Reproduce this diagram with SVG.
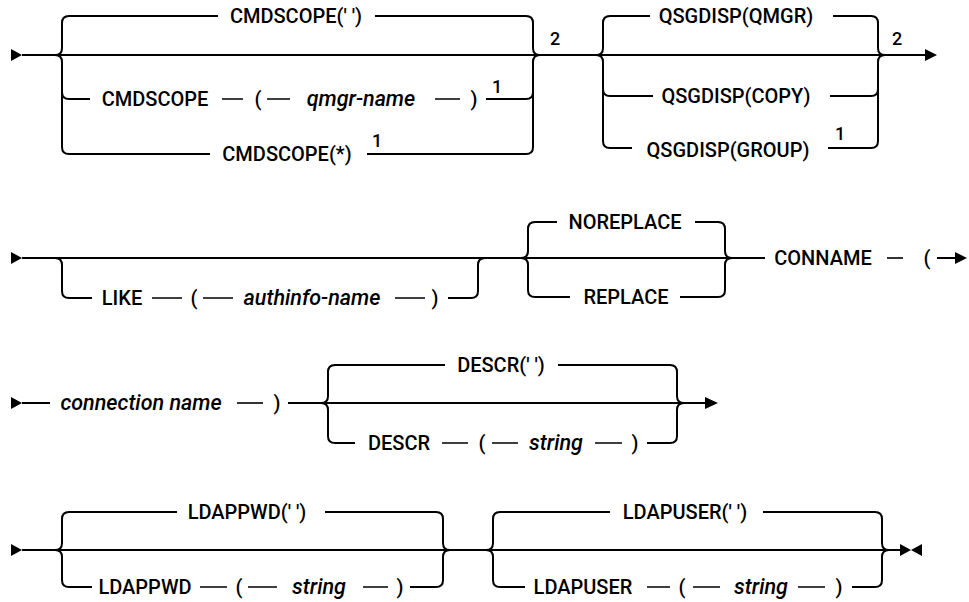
<svg xmlns="http://www.w3.org/2000/svg" width="969" height="602" viewBox="0 0 969 602">
<style>
.t{font-family:Roboto,"Liberation Sans",sans-serif;font-size:20px;font-weight:500;fill:#000;text-anchor:middle}
.i{font-style:italic;font-size:21.5px}
.n{font-size:18px}
.l{fill:none;stroke:#000;stroke-width:2}
.d{fill:none;stroke:#000;stroke-width:1.6}
.a{fill:#000}
</style>
<rect width="969" height="602" fill="#fff"/>
<g id="connectors">
<path class="a" d="M11,49 L22,55 L11,61 Z"/>
<path class="l" d="M22,55 H925"/>
<path class="l" d="M55,55 Q62,55 62,48 V23 Q62,16 69,16 H218"/>
<path class="l" d="M55,55 Q62,55 62,62 V147 Q62,154 69,154 H210"/>
<path class="l" d="M62,92 Q62,99 69,99 H90"/>
<path class="l" d="M375,16 H526 Q533,16 533,23 V48 Q533,55 540,55"/>
<path class="l" d="M367,154 H526 Q533,154 533,147 V62 Q533,55 540,55"/>
<path class="l" d="M486,99 H526 Q533,99 533,92"/>
<path class="d" d="M222,99 H243 M267,99 H290 M435,99 H460"/>
<path class="l" d="M596,55 Q603,55 603,48 V23 Q603,16 610,16 H650"/>
<path class="l" d="M596,55 Q603,55 603,62 V141 Q603,148 610,148 H632"/>
<path class="l" d="M603,89 Q603,96 610,96 H653"/>
<path class="l" d="M833,16 H871 Q878,16 878,23 V48 Q878,55 885,55"/>
<path class="l" d="M830,96 H871 Q878,96 878,89"/>
<path class="l" d="M828,148 H871 Q878,148 878,141 V62 Q878,55 885,55"/>
<path class="a" d="M925,49 L937,55 L925,61 Z"/>
<path class="a" d="M11,252 L22,258 L11,264 Z"/>
<path class="l" d="M22,258 H765"/>
<path class="l" d="M55,258 Q62,258 62,265 V291 Q62,298 69,298 H92"/>
<path class="l" d="M448,298 H471 Q478,298 478,291 V265 Q478,258 485,258"/>
<path class="d" d="M152,298 H182 M203,298 H233 M395,298 H425"/>
<path class="l" d="M521,258 Q528,258 528,251 V229 Q528,222 535,222 H557"/>
<path class="l" d="M521,258 Q528,258 528,265 V290 Q528,297 535,297 H570"/>
<path class="l" d="M695,222 H718 Q725,222 725,229 V251 Q725,258 732,258"/>
<path class="l" d="M680,297 H718 Q725,297 725,290 V265 Q725,258 732,258"/>
<path class="d" d="M887,258 H903"/>
<path class="l" d="M937,258 H955"/>
<path class="a" d="M955,252 L967,258 L955,264 Z"/>
<path class="a" d="M11,397 L22,403 L11,409 Z"/>
<path class="l" d="M22,403 H50"/>
<path class="d" d="M237,403 H263"/>
<path class="l" d="M288,403 H705"/>
<path class="l" d="M321,403 Q328,403 328,396 V372 Q328,365 335,365 H445"/>
<path class="l" d="M321,403 Q328,403 328,410 V436 Q328,443 335,443 H355"/>
<path class="l" d="M558,365 H670 Q677,365 677,372 V396 Q677,403 684,403"/>
<path class="l" d="M647,443 H670 Q677,443 677,436 V410 Q677,403 684,403"/>
<path class="d" d="M442,443 H468 M492,443 H518 M595,443 H622"/>
<path class="a" d="M705,397 L718,403 L705,409 Z"/>
<path class="a" d="M11,544 L22,550 L11,556 Z"/>
<path class="l" d="M22,550 H900"/>
<path class="l" d="M55,550 Q62,550 62,543 V519 Q62,512 69,512 H177"/>
<path class="l" d="M55,550 Q62,550 62,557 V580 Q62,587 69,587 H92"/>
<path class="l" d="M325,512 H436 Q443,512 443,519 V543 Q443,550 450,550"/>
<path class="l" d="M410,587 H436 Q443,587 443,580 V557 Q443,550 450,550"/>
<path class="d" d="M200,587 H227 M248,587 H277 M363,587 H388"/>
<path class="l" d="M486,550 Q493,550 493,543 V519 Q493,512 500,512 H610"/>
<path class="l" d="M486,550 Q493,550 493,557 V580 Q493,587 500,587 H525"/>
<path class="l" d="M763,512 H875 Q882,512 882,519 V543 Q882,550 889,550"/>
<path class="l" d="M852,587 H875 Q882,587 882,580 V557 Q882,550 889,550"/>
<path class="d" d="M647,587 H670 M693,587 H720 M798,587 H825"/>
<path class="a" d="M900,544 L911,550 L900,556 Z M922,544 L911,550 L922,556 Z"/>
</g>
<g id="cmdscope-blank"><text class="t" x="296" y="23">CMDSCOPE(' ')</text></g>
<g id="cmdscope-qmgr">
<text class="t" x="155" y="106">CMDSCOPE</text>
<text class="t" x="258" y="106">(</text>
<text class="t i" x="361" y="106">qmgr-name</text>
<text class="t" x="474" y="106">)</text>
<text class="t n" x="497" y="93">1</text>
</g>
<g id="cmdscope-star">
<text class="t" x="287" y="161">CMDSCOPE(*)</text>
<text class="t n" x="377" y="147">1</text>
</g>
<g id="note-2a"><text class="t n" x="555" y="45">2</text></g>
<g id="qsgdisp-qmgr"><text class="t" x="736" y="23">QSGDISP(QMGR)</text></g>
<g id="qsgdisp-copy"><text class="t" x="736" y="103">QSGDISP(COPY)</text></g>
<g id="qsgdisp-group">
<text class="t" x="728" y="157">QSGDISP(GROUP)</text>
<text class="t n" x="840" y="140">1</text>
</g>
<g id="note-2b"><text class="t n" x="897" y="45">2</text></g>
<g id="like">
<text class="t" x="122" y="305">LIKE</text>
<text class="t" x="194" y="305">(</text>
<text class="t i" x="312" y="305">authinfo-name</text>
<text class="t" x="435" y="305">)</text>
</g>
<g id="noreplace"><text class="t" x="625" y="229">NOREPLACE</text></g>
<g id="replace"><text class="t" x="626" y="304">REPLACE</text></g>
<g id="conname">
<text class="t" x="823" y="265">CONNAME</text>
<text class="t" x="927" y="265">(</text>
</g>
<g id="connection-name">
<text class="t i" x="141" y="410">connection name</text>
<text class="t" x="277" y="410">)</text>
</g>
<g id="descr-blank"><text class="t" x="501" y="372">DESCR(' ')</text></g>
<g id="descr-string">
<text class="t" x="399" y="450">DESCR</text>
<text class="t" x="482" y="450">(</text>
<text class="t i" x="556" y="450">string</text>
<text class="t" x="635" y="450">)</text>
</g>
<g id="ldappwd-blank"><text class="t" x="247" y="519">LDAPPWD(' ')</text></g>
<g id="ldappwd-string">
<text class="t" x="145" y="594">LDAPPWD</text>
<text class="t" x="239" y="594">(</text>
<text class="t i" x="319" y="594">string</text>
<text class="t" x="400" y="594">)</text>
</g>
<g id="ldapuser-blank"><text class="t" x="685" y="519">LDAPUSER(' ')</text></g>
<g id="ldapuser-string">
<text class="t" x="583" y="594">LDAPUSER</text>
<text class="t" x="682" y="594">(</text>
<text class="t i" x="761" y="594">string</text>
<text class="t" x="839" y="594">)</text>
</g>
</svg>
